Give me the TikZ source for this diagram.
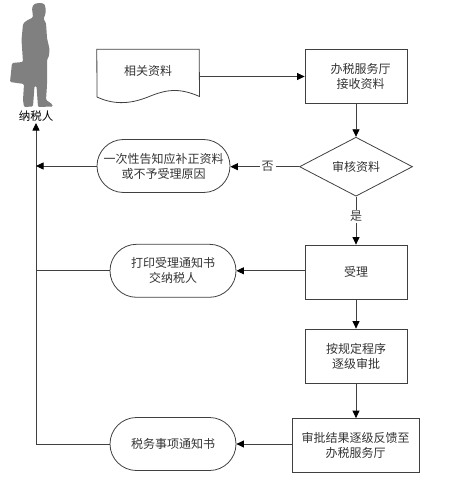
\documentclass[tikz,border=0pt]{standalone}
\usepackage{fontspec}
\setmainfont{Noto Sans CJK SC}
\usetikzlibrary{calc, positioning, arrows.meta, shapes.geometric, shapes.misc}

\tikzset{
    kuang/.style={draw=black!75, line width=0.8pt, rectangle, align=center, minimum width=102pt, minimum height=54pt, inner sep=0pt},
    yuan/.style={draw=black!75, line width=0.8pt, rounded rectangle, align=center, minimum height=53pt, inner sep=0pt},
    panduan/.style={draw=black!75, line width=0.8pt, diamond, aspect=1.9, minimum width=113pt, minimum height=59pt, inner sep=0pt},
    jiantou/.style={-{Triangle[length=7.5pt,width=7pt,color=black]}, line width=0.8pt, black!75},
    xian/.style={line width=0.8pt, black!75}
}

\begin{document}
\begin{tikzpicture}[x=1pt, y=-1pt, font=\fontsize{12pt}{15pt}\selectfont, text=black!80]
    \useasboundingbox (0,0) rectangle (461,486);

    % Renwu
    \fill[black!50, rounded corners=1.2pt] (39,3) -- (44,3.5) -- (45.5,7) -- (45.5,14) -- (43.5,19) -- (46,23) -- (47,38) -- (49.5,49) -- (49,56)
        -- (47,60) -- (47,85) -- (46,100) -- (52,104) -- (53,106.5) -- (38,107) -- (36.5,86) -- (34.5,86) -- (33,106.5) -- (24,107)
        -- (23,100) -- (24,84) -- (10,82) -- (12,63) -- (23,62) -- (21.5,40) -- (23,24) -- (26,21) -- (33,17.5) -- (32,8) -- (34,4) -- cycle;
    \node[font=\fontsize{11.5pt}{14pt}\selectfont, text=black, inner sep=1pt] (nashui) at (36,116.5) {纳税人};

    % Caixia
    \node[minimum width=102pt, minimum height=54pt, inner sep=0pt] (wenjian) at (148,76.5) {};
    \draw[xian] (wenjian.north west) -- (wenjian.north east) -- (199.5,96.5)
        .. controls (178,87) and (165,90) .. (148,97) .. controls (128,105) and (112,104) .. (97,97) -- cycle;
    \node at (148,70.5) {相关资料};

    \node[kuang] (jieshou) at (356,76.5) {\hspace*{9pt}办税服务厅\\\hspace*{9pt}接收资料};
    \node[panduan] (shenhe) at (356,166.7) {审核资料};
    \node[kuang] (shouli) at (356,272) {受理};
    \node[kuang] (shenpi) at (356,356) {按规定程序\\逐级审批};
    \node[kuang, minimum width=127pt] (fankui) at (355.5,445.5) {审批结果逐级反馈至\\办税服务厅};

    % Zuobian
    \node[yuan, minimum width=133pt] (gaozhi) at (163.5,166) {一次性告知应补正资料\\或不予受理原因};
    \node[yuan, minimum width=126pt] (dayin) at (173,270.8) {打印受理通知书\\交纳税人};
    \node[yuan, minimum width=126pt] (shiwu) at (173,444) {税务事项通知书};
    \coordinate (zhuan) at (36,444);

    % Lianjie
    \draw[jiantou] (wenjian.east) -- (jieshou.west);
    \draw[jiantou] (jieshou.south) -- (shenhe.north);
    \draw[jiantou] (shenhe.south) -- node[fill=white, inner sep=1.5pt, pos=0.41] (shi) {是} (shouli.north);
    \draw[jiantou] (shenhe.west) -- node[fill=white, inner sep=2pt, pos=0.46] (fou) {否} (shenhe.west -| gaozhi.east);
    \draw[jiantou] (shouli.south) -- (shenpi.north);
    \draw[jiantou] (shenpi.south) -- (shenpi.south |- fankui.north);
    \draw[jiantou] (dayin.east -| shouli.west) -- (dayin.east);
    \draw[jiantou] (shiwu.east -| fankui.west) -- (shiwu.east);
    \draw[jiantou] (shiwu.west) -- (zhuan) -- (nashui.south);
    \draw[jiantou] (gaozhi.west) -- (gaozhi.west -| zhuan);
    \draw[xian] (dayin.west) -- (dayin.west -| zhuan);
\end{tikzpicture}
\end{document}
